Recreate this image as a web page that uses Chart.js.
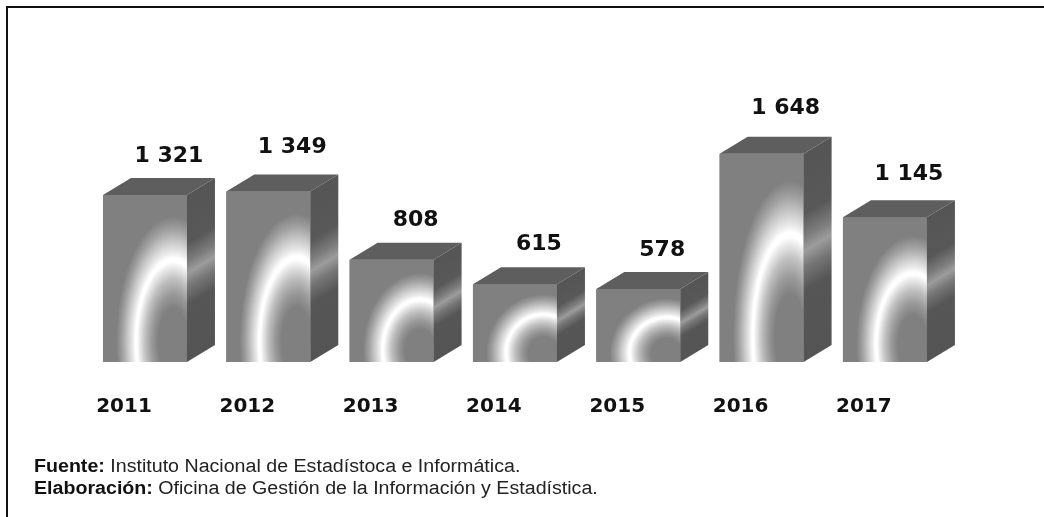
<!DOCTYPE html>
<html>
<head>
<meta charset="utf-8">
<style>
html,body{margin:0;padding:0;background:#fff;width:1044px;height:517px;overflow:hidden}
#wrap{position:relative;width:1044px;height:517px}
canvas{position:absolute;left:0;top:0}
#frameTop{position:absolute;left:6px;top:6px;right:0;height:1.5px;background:#111}
#frameLeft{position:absolute;left:6px;top:6px;bottom:0;width:1.5px;background:#111}
#note{position:absolute;left:34px;top:455px;font:18px/22px "Liberation Sans",Arial,sans-serif;color:#222;white-space:nowrap;transform:scaleX(1.09);transform-origin:left top}
#note b{font-weight:700;color:#111}
</style>
<script src="https://cdn.jsdelivr.net/npm/chart.js@4"></script>
</head>
<body>
<div id="wrap">
<canvas id="c" width="1044" height="517"></canvas>
<div id="frameTop"></div><div id="frameLeft"></div>
<div id="note"><b>Fuente:</b> Instituto Nacional de Estadístoca e Informática.<br><b>Elaboración:</b> Oficina de Gestión de la Información y Estadística.</div>
</div>
<script>
const years = ['2011','2012','2013','2014','2015','2016','2017'];
const totals = [1321,1349,808,615,578,1648,1145];

const DEPTH_X = 28, DEPTH_Y = 17;
const LABEL_LIFT = [39,44,40,40,39,45,43];
const formatValue = v => String(v).replace(/\B(?=(\d{3})+$)/g,' ');

const box3d = {
  id:'box3d',
  afterDatasetsDraw(chart){
    const {ctx} = chart;
    chart.getDatasetMeta(0).data.forEach((bar,i)=>{
      const w = bar.width, h = bar.base-bar.y, l = bar.x-w/2, t = bar.y;
      // front-face glow
      ctx.save();
      ctx.beginPath(); ctx.rect(l,t,w,h); ctx.clip();
      ctx.translate(l+0.84*w, t+0.88*h);
      ctx.scale(0.68*w, 0.75*h);
      const glow = ctx.createRadialGradient(0,0,0,0,0,1);
      [[0,'#808080'],[0.27,'#808080'],[0.38,'#999999'],[0.5,'#c0c0c0'],[0.6,'#ececec'],
       [0.64,'#ffffff'],[0.67,'#ffffff'],[0.71,'#ececec'],[0.8,'#c8c8c8'],[0.9,'#a0a0a0'],[1,'#808080']]
        .forEach(s=>glow.addColorStop(s[0],s[1]));
      ctx.fillStyle = glow;
      ctx.fillRect(-3,-3,6,6);
      ctx.restore();
      // side face
      ctx.save();
      ctx.transform(1,-DEPTH_Y/DEPTH_X,0,1,l+w,t);
      const side = ctx.createLinearGradient(0,0,0,h);
      [[0,'#555555'],[0.29,'#585858'],[0.40,'#7c7c7c'],[0.47,'#9c9c9c'],[0.55,'#767676'],[0.66,'#565656'],[1,'#545454']]
        .forEach(s=>side.addColorStop(s[0],s[1]));
      ctx.fillStyle = side;
      ctx.fillRect(0,0,DEPTH_X,h);
      ctx.restore();
      // top face
      ctx.beginPath();
      ctx.moveTo(l,t); ctx.lineTo(l+DEPTH_X,t-DEPTH_Y);
      ctx.lineTo(l+w+DEPTH_X,t-DEPTH_Y); ctx.lineTo(l+w,t); ctx.closePath();
      ctx.fillStyle = '#5e5e5e'; ctx.fill();
      // value label
      ctx.fillStyle = '#111';
      ctx.font = 'bold 22px "DejaVu Sans"';
      ctx.textAlign = 'center'; ctx.textBaseline = 'middle';
      ctx.fillText(formatValue(totals[i]), bar.x+24, t-LABEL_LIFT[i]);
    });
  }
};

new Chart(document.getElementById('c'),{
  type:'bar',
  data:{labels:years,datasets:[{data:totals,backgroundColor:'#808080',borderWidth:0,barPercentage:0.681,categoryPercentage:1}]},
  options:{
    responsive:false,animation:false,
    layout:{padding:{left:83.3,right:97.4,top:109.2,bottom:65}},
    plugins:{legend:{display:false},tooltip:{enabled:false},title:{display:false}},
    scales:{
      y:{display:false,min:0,max:2000},
      x:{
        grid:{display:false,drawTicks:false},border:{display:false},
        ticks:{color:'#111',font:{family:'"DejaVu Sans"',size:20,weight:'bold'},padding:33,labelOffset:-21,maxRotation:0,autoSkip:false}
      }
    }
  },
  plugins:[box3d]
});
</script>
</body>
</html>
